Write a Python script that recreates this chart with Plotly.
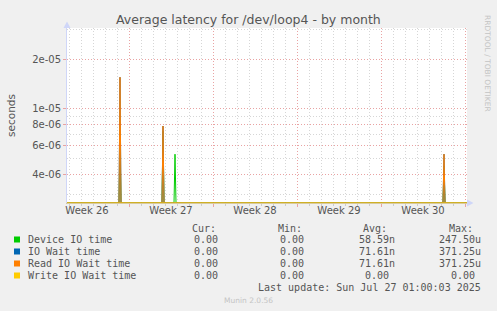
import plotly.graph_objects as go
import pandas as pd

# ---------------- data ----------------
spike_times = ["2025-06-28 06:00", "2025-07-01 20:00", "2025-07-02 20:00", "2025-07-25 06:00"]
device_io_time = [6.5e-06, 7.3e-06, 5.3e-06, 4.5e-06]
io_wait_time = [1.55e-05, 7.85e-06, 0.0, 5.3e-06]
read_io_wait_time = [1.55e-05, 7.85e-06, 0.0, 5.3e-06]
write_io_wait_time = [0.0, 0.0, 0.0, 0.0]

x_start = "2025-06-23 20:00"
x_end = "2025-07-27 04:00"
week_grid = ["2025-06-29", "2025-07-06", "2025-07-13", "2025-07-20", "2025-07-27"]
week_label_pos = ["2025-06-25 12:00", "2025-07-02 12:00", "2025-07-09 12:00",
                  "2025-07-16 12:00", "2025-07-23 12:00"]
week_labels = ["Week 26", "Week 27", "Week 28", "Week 29", "Week 30"]

y_tick_vals = [2e-05, 1e-05, 8e-06, 6e-06, 4e-06]
y_tick_text = ["2e-05", "1e-05", "8e-06", "6e-06", "4e-06"]
y_minor_vals = [3e-05, 9e-06, 7e-06, 5e-06, 3e-06]
Y_MIN, Y_MAX = -5.5715, -4.511

legend_names = ["Device IO time", "IO Wait time", "Read IO Wait time", "Write IO Wait time"]
legend_colors = ["#00cc00", "#0066b3", "#ff8000", "#ffcc00"]
legend_cur = ["0.00", "0.00", "0.00", "0.00"]
legend_min = ["0.00", "0.00", "0.00", "0.00"]
legend_avg = ["58.59n", "71.61n", "71.61n", "0.00"]
legend_max = ["247.50u", "371.25u", "371.25u", "0.00"]

# ---------------- helpers ----------------
L, T, W, H = 67, 28, 400, 175
FIG_W, FIG_H = 497, 311


def px(x):
    return (x - L) / W


def py(y):
    return (T + H - y) / H


y_floor = 10 ** Y_MIN
step = pd.Timedelta(hours=2)


def build(vals):
    xs = [pd.Timestamp(x_start)]
    ys = [0.0]
    for t, v in zip(spike_times, vals):
        t = pd.Timestamp(t)
        xs += [t - step, t, t + step]
        ys += [0.0, v, 0.0]
    xs.append(pd.Timestamp(x_end))
    ys.append(0.0)
    return xs, [max(v, y_floor) for v in ys]


fig = go.Figure()
for name, vals, col in zip(legend_names,
                           [device_io_time, io_wait_time, read_io_wait_time, write_io_wait_time],
                           legend_colors):
    xs, ys = build(vals)
    fig.add_trace(go.Scatter(x=xs, y=ys, mode="lines", name=name,
                             line=dict(color=col, width=1), showlegend=False,
                             hoverinfo="skip"))

# invisible trace to host the week label axis
fig.add_trace(go.Scatter(x=[week_label_pos[0]], y=[10 ** ((Y_MIN + Y_MAX) / 2)], xaxis="x2",
                         mode="markers", marker=dict(opacity=0), showlegend=False,
                         hoverinfo="skip"))

RED = "#e9a3a3"
GRAY = "#d6d6d6"
FONT = "DejaVu Sans"
TXT = "#555555"

fig.update_layout(
    width=FIG_W, height=FIG_H,
    margin=dict(l=L, r=FIG_W - L - W, t=T, b=FIG_H - T - H, pad=0),
    paper_bgcolor="#f0f0f0", plot_bgcolor="#ffffff",
    font=dict(family=FONT, size=10, color=TXT),
    xaxis=dict(type="date", range=[x_start, x_end], tickmode="array",
               tickvals=week_grid, showticklabels=False,
               showgrid=True, gridcolor=RED, gridwidth=1, griddash="1px,2px",
               ticks="outside", ticklen=3, tickcolor=RED,
               showline=True, linecolor="#d9cb9c", linewidth=1, zeroline=False,
               minor=dict(dtick=86400000, tick0="2025-06-23", showgrid=True,
                          gridcolor=GRAY, gridwidth=1, griddash="1px,2px",
                          ticks="outside", ticklen=2, tickcolor="#cccccc"),
               layer="above traces"),
    xaxis2=dict(type="date", range=[x_start, x_end], overlaying="x", anchor="y",
                side="bottom", tickmode="array", tickvals=week_label_pos,
                ticktext=week_labels, showgrid=False, ticks="", showline=False,
                zeroline=False, tickfont=dict(family=FONT, size=10, color=TXT)),
    yaxis=dict(type="log", range=[Y_MIN, Y_MAX], tickmode="array",
               tickvals=y_tick_vals, ticktext=y_tick_text,
               showgrid=True, gridcolor=RED, gridwidth=1, griddash="1px,2px",
               ticks="outside", ticklen=3, tickcolor=RED,
               showline=True, linecolor="#cfd6f8", linewidth=1, zeroline=False,
               tickfont=dict(family=FONT, size=10, color=TXT),
               minor=dict(tickmode="array", tickvals=y_minor_vals, showgrid=True,
                          gridcolor=GRAY, gridwidth=1, griddash="1px,2px", ticks=""),
               layer="above traces"),
)

ann = []
shapes = []


def text(x, y, s, size=10, color=TXT, family=FONT, xanchor="left", angle=0):
    ann.append(dict(x=px(x), y=py(y), xref="paper", yref="paper", text=s,
                    showarrow=False, xanchor=xanchor, yanchor="middle",
                    textangle=angle, font=dict(family=family, size=size, color=color)))


# title and axis label
text(248, 19, "Average latency for /dev/loop4 - by month", size=12.5, xanchor="center")
text(11, 115, "seconds", size=10.5, xanchor="center", angle=-90)
text(487, 63, "RRDTOOL / TOBI OETIKER", size=7.5, color="#c4c4c4", xanchor="center", angle=90)

# legend table
MONO = "DejaVu Sans Mono"
hdr_y = 228
for s, x in zip(["Cur:", "Min:", "Avg:", "Max:"], [190, 276, 361, 447]):
    text(x, hdr_y, s, family=MONO)
row_y = [239.5, 251.5, 263.5, 275.5]
for i, (nm, col) in enumerate(zip(legend_names, legend_colors)):
    y = row_y[i]
    shapes.append(dict(type="rect", xref="paper", yref="paper",
                       x0=px(14), x1=px(20), y0=py(y + 3), y1=py(y - 3),
                       fillcolor=col, line=dict(width=0)))
    text(26, y, nm, family=MONO)
    text(220, y, legend_cur[i], family=MONO, xanchor="right")
    text(306, y, legend_min[i], family=MONO, xanchor="right")
    text(397, y, legend_avg[i] if legend_avg[i][-1].isalpha() else legend_avg[i] + "\u00a0",
         family=MONO, xanchor="right")
    text(483, y, legend_max[i] if legend_max[i][-1].isalpha() else legend_max[i] + "\u00a0",
         family=MONO, xanchor="right")
text(483, 287.5, "Last update: Sun Jul 27 01:00:03 2025", family=MONO, xanchor="right")
text(248, 300.5, "Munin 2.0.56", size=7.5, color="#c4c4c4", xanchor="center")

# axis arrows
AX = "#cfd6f8"
shapes.append(dict(type="path", xref="paper", yref="paper",
                   path=f"M {px(63.5)},{py(28)} L {px(70.5)},{py(28)} L {px(67)},{py(21.5)} Z",
                   fillcolor=AX, line=dict(width=0)))
shapes.append(dict(type="path", xref="paper", yref="paper",
                   path=f"M {px(467)},{py(199.5)} L {px(467)},{py(206.5)} L {px(473.5)},{py(203)} Z",
                   fillcolor=AX, line=dict(width=0)))

fig.update_layout(annotations=ann, shapes=shapes)
fig.write_html("out.html")
